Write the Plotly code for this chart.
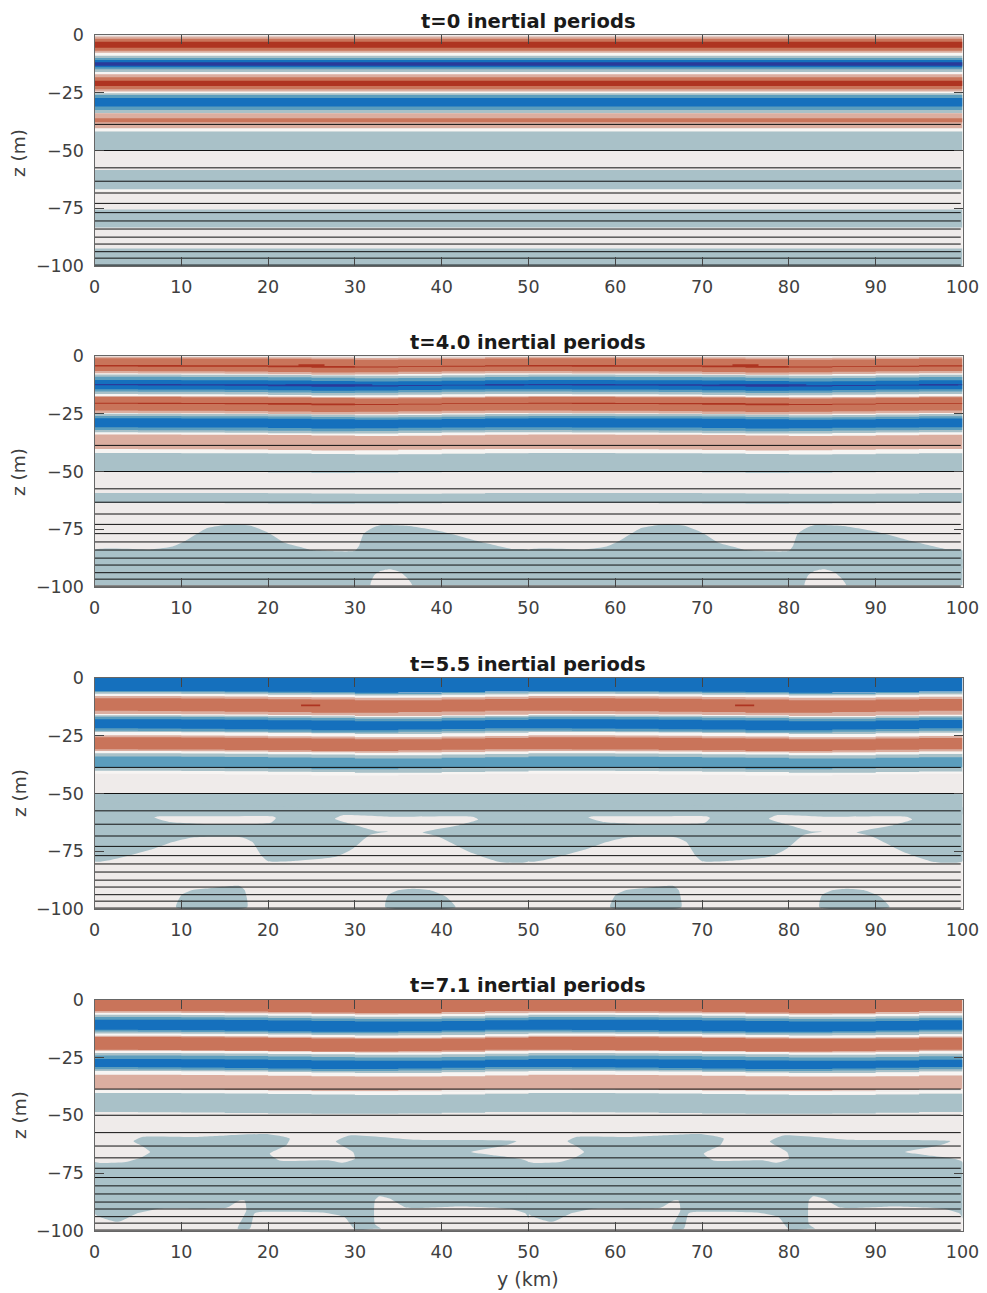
import plotly.graph_objects as go

TITLES = ["t=0 inertial periods", "t=4.0 inertial periods", "t=5.5 inertial periods", "t=7.1 inertial periods"]
X_TICKS = [0, 10, 20, 30, 40, 50, 60, 70, 80, 90, 100]
Z_TICKS = [0, -25, -50, -75, -100]

# depths (m) of the horizontal model-level lines, shared by every panel
LEVEL_LINES = [38.7, 50.0, 57.5, 63.3, 68.4, 72.9, 76.9, 80.5, 84.0, 87.5, 90.5, 93.8, 96.6, 99.6]

# stripes: colour level, top depth, bottom depth (m)
T0_LEVEL = [.5, 1, 2, 3, .5, -1, -2, -3, -4, .5, 1, 2, 3, .5, -1, -2, -3, .5, 1, 2, .5, -1, -1, -1, -1]
T0_TOP = [7.0, 0.7, 1.6, 2.9, 16.0, 9.0, 10.0, 10.8, 11.8, 24.2, 17.0, 18.3, 19.8, 33.6, 25.2, 26.0, 27.3, 40.0, 33.9, 36.0, 66.5, 41.8, 58.4, 75.5, 92.4]
T0_BOT = [9.2, 7.7, 6.8, 5.5, 17.2, 16.0, 14.8, 14.0, 13.3, 25.5, 24.5, 23.5, 22.1, 34.4, 33.9, 32.5, 31.0, 41.8, 40.4, 37.8, 67.6, 49.8, 66.8, 83.3, 100.0]

T4_LEVEL = [.5, 1, 2, 3, .5, -1, -2, -3, -4, .5, 1, 2, 3, .5, -1, -2, -3, .5, 1, .5, -1, -1]
T4_TOP = [6.5, 0.3, 1.0, 3.9, 15.5, 8.0, 9.0, 10.4, 12.1, 24.0, 17.3, 17.8, 20.2, 32.5, 25.0, 26.0, 27.0, 39.5, 34.0, 41.0, 42.0, 59.3]
T4_BOT = [8.2, 7.5, 6.5, 4.5, 17.5, 16.5, 15.4, 14.4, 12.7, 25.4, 24.7, 23.6, 20.7, 34.2, 33.0, 32.0, 30.8, 42.0, 40.3, 42.0, 50.0, 63.6]
T4_WOBBLE = [0.0, 0.0, -0.1, -0.1, -0.2, -0.4, -0.6, -0.5, -0.3, -0.1, 0.0]

T5_LEVEL = [-3, -2, -1, .5, 1, 2, .5, -1, -2, -3, .5, 1, 2, .5, -1, -2, .5]
T5_TOP = [-1.0, 5.8, 6.3, 7.0, 8.0, 9.0, 15.8, 16.3, 17.0, 18.1, 23.6, 25.0, 25.9, 31.8, 32.8, 34.2, 40.4]
T5_BOT = [6.0, 6.6, 7.4, 8.3, 16.3, 14.4, 16.6, 24.0, 23.0, 22.0, 25.2, 32.0, 31.0, 33.0, 41.0, 38.9, 41.6]
T5_WOBBLE = [0.2, 0.2, 0.1, 0.0, -0.2, -0.3, -0.6, -0.6, -0.3, -0.1, 0.2]

T7_LEVEL = [2, 1, .5, -1, -2, -3, .5, 1, 2, .5, -1, -2, -3, .5, 1, .5, -1]
T7_TOP = [-1.0, 5.3, 6.0, 6.9, 7.9, 9.0, 15.0, 16.0, 16.5, 22.4, 23.4, 24.5, 26.0, 31.2, 32.8, 39.5, 40.7]
T7_BOT = [5.5, 6.2, 7.1, 15.3, 14.1, 13.4, 16.2, 22.7, 22.0, 23.6, 31.4, 30.4, 29.5, 33.0, 39.0, 40.7, 48.9]
T7_WOBBLE = [0.3, 0.3, 0.2, 0.1, -0.1, -0.3, -0.5, -0.5, -0.3, 0.0, 0.3]

WOBBLE_Y = [0, 5, 10, 15, 20, 25, 30, 35, 40, 45, 50]

# short streaks and flat blocks: colour level, y start, y end, top depth, bottom depth
T4_STREAK = [(3, 23.5, 26.5, 3.6, 4.4), (-4, 22.0, 32.0, 12.2, 12.9), (-4, 45.0, 49.5, 12.2, 12.8), (-1, 0, 50.2, 88, 99.2)]
T5_STREAK = [(3, 13.5, 28.5, 11.6, 11.8), (3, 23.8, 26.0, 11.5, 12.2), (-1, 0, 50.2, 50, 59)]
T7_STREAK = [(2, 10.0, 17.0, 35.2, 35.5)]

# teal regions and holes, one 50 km repeat: y (km), depth (m)
T4_TEAL_Y = [0, 6.7, 9, 10.5, 13, 16, 18, 20, 22, 24, 25, 30, 30.5, 31, 32, 33, 36, 40, 44, 48, 50, 50, 25, 0]
T4_TEAL_Z = [84, 83.7, 82.5, 80, 74.5, 72.7, 73.5, 76.5, 81, 83, 84, 84.3, 82, 77, 74.5, 73.2, 73.5, 76, 80, 83.5, 84, 92, 92, 92]
T4_HOLE_Y = [31.8, 32.2, 33, 34, 35.2, 36, 36.6]
T4_HOLE_Z = [99.3, 95, 93, 92.3, 93.5, 96, 99.3]

T5_TEAL_Y = [0, 6.3, 9, 11.3, 17, 18.2, 19.2, 20, 23, 27.8, 29.8, 31.7, 33.8, 37.8, 39.7, 43.2, 46.7, 50, 50, 25, 0]
T5_TEAL_Z = [79.3, 74.5, 71, 69, 69, 71, 76.7, 79.3, 79.2, 77.4, 73.8, 68, 66.6, 67, 68.8, 75.3, 79.6, 79.3, 56, 56, 56]
T5_LENS1_Y = [6.9, 7.5, 14, 20.5, 20.9, 20.3, 13.6, 8.6]
T5_LENS1_Z = [60.4, 59.9, 59.9, 59.9, 60.6, 62.7, 63.3, 62.3]
T5_LENS2_Y = [27.7, 28.6, 34.4, 43.6, 44.2, 42, 37.8, 38.5, 33.8, 33.8, 32.6, 29.4]
T5_LENS2_Z = [60.9, 59.4, 60.1, 60.1, 61.3, 63.7, 67, 70, 70, 66.6, 66.4, 63]
T5_BLOB1_Y = [9.4, 10, 11.3, 13.2, 16.7, 17.3, 17.6]
T5_BLOB1_Z = [99.2, 94, 91.8, 91, 90, 91.8, 99.2]
T5_BLOB2_Y = [33.5, 33.8, 35.1, 36.7, 38.6, 40.5, 41.6]
T5_BLOB2_Z = [99.2, 94, 91.8, 91.2, 91.8, 94.7, 99.2]

T7_TEAL_Y = [0, 0.6, 3.6, 5.5, 6.4, 5.5, 4.5, 5.5, 11.3, 15.2, 19.8, 22.5, 22.1, 20.2, 21.3, 27.1, 28.6, 30, 29.8, 27.8, 29.4, 37, 48.6, 47.4, 43.4, 45.9, 50,
             50, 49.7, 47.8, 42, 35.9, 34, 32.8, 32.3, 32.3, 33, 32.3, 30, 28.8, 26.7, 19, 18.4, 17.9, 16.5, 17.5, 17.3, 16.7, 15.2, 7.5, 4.8, 2.7, 0]
T7_TEAL_Z = [70.2, 70.6, 70.2, 68, 65.9, 63.3, 61.2, 59.4, 59.4, 58.7, 58.1, 60.1, 63, 66.6, 69.5, 69.5, 70.5, 68.8, 65.9, 61.3, 58.7, 60.6, 61.2, 63, 65.9, 67.3, 70.2,
             94.5, 92.5, 90.4, 89.4, 89.9, 86, 85, 86.8, 97, 99, 99, 99.3, 94, 92.2, 91.8, 92.5, 99, 99, 91, 86.8, 86.8, 90, 90.4, 92.5, 96, 92.5]

COLORS = {3: "#AE3421", 2: "#C9745A", 1: "#DBAEA0", .5: "#F7F5F3",
          -1: "#A9C1C8", -2: "#5B9DBD", -3: "#1570BD", -4: "#2A3A9A"}
BG = "#EFEBEA"
W, H = 987, 1293
LEFT, RIGHT = 94.5, 962.5
PANELS = [(35, 266), (356, 587), (678, 909), (999.5, 1231)]
ZLABEL_PX = [153, 472, 793, 1115]

fig = go.Figure()


def poly(xs, ys, color, ax, shape="linear"):
    line = dict(width=0, color=color, shape=shape)
    if shape == "spline":
        line["smoothing"] = 0.5
    fig.add_trace(go.Scatter(x=xs, y=[-v for v in ys], mode="lines", fill="toself", fillcolor=color,
                             line=line, hoverinfo="skip", showlegend=False,
                             xaxis=f"x{ax}", yaxis=f"y{ax}"))


def stripes(levels, tops, bots, wobble, ax):
    for lv, t, b in zip(levels, tops, bots):
        xs = WOBBLE_Y + [v + 50 for v in WOBBLE_Y[1:]]
        w = wobble + wobble[1:]
        if lv == -1 and t > 45:
            w = [v * .6 for v in w]
        poly(xs + xs[::-1], [t - v for v in w] + [b - v for v in w][::-1], COLORS[lv], ax, "hv")


def repeat(ys, zs, color, ax, shape="linear"):
    for shift in (0, 50):
        poly([v + shift for v in ys] + [ys[0] + shift], zs + [zs[0]], color, ax, shape)


FLAT = [0.0] * 11
stripes(T0_LEVEL, T0_TOP, T0_BOT, FLAT, 1)

stripes(T4_LEVEL, T4_TOP, T4_BOT, T4_WOBBLE, 2)
for lv, a, b, t, d in T4_STREAK:
    repeat([a, b, b, a], [t, t, d, d], COLORS[lv], 2)
repeat(T4_TEAL_Y, T4_TEAL_Z, COLORS[-1], 2, "spline")
repeat(T4_HOLE_Y, T4_HOLE_Z, BG, 2, "spline")

stripes(T5_LEVEL, T5_TOP, T5_BOT, T5_WOBBLE, 3)
for lv, a, b, t, d in T5_STREAK:
    repeat([a, b, b, a], [t, t, d, d], COLORS[lv], 3)
repeat(T5_TEAL_Y, T5_TEAL_Z, COLORS[-1], 3, "spline")
repeat(T5_LENS1_Y, T5_LENS1_Z, BG, 3, "spline")
repeat(T5_LENS2_Y, T5_LENS2_Z, BG, 3, "spline")
repeat(T5_BLOB1_Y, T5_BLOB1_Z, COLORS[-1], 3, "spline")
repeat(T5_BLOB2_Y, T5_BLOB2_Z, COLORS[-1], 3, "spline")

stripes(T7_LEVEL, T7_TOP, T7_BOT, T7_WOBBLE, 4)
for lv, a, b, t, d in T7_STREAK:
    repeat([a, b, b, a], [t, t, d, d], COLORS[lv], 4)
repeat(T7_TEAL_Y, T7_TEAL_Z, COLORS[-1], 4, "spline")

for ax in range(1, 5):
    lx, ly = [], []
    for z in LEVEL_LINES:
        lx += [0, 99.8, None]
        ly += [-z, -z, None]
    fig.add_trace(go.Scatter(x=lx, y=ly, mode="lines", line=dict(color="#111111", width=1),
                             hoverinfo="skip", showlegend=False, xaxis=f"x{ax}", yaxis=f"y{ax}"))

FONT = "DejaVu Sans"
TICK = dict(family=FONT, size=17.5, color="#404040")
layout = dict(width=W, height=H, margin=dict(l=0, r=0, t=0, b=0, autoexpand=False), paper_bgcolor="white",
              plot_bgcolor=BG, showlegend=False, autosize=False)
ann = []
for i, (top, bot) in enumerate(PANELS, start=1):
    suffix = "" if i == 1 else str(i)
    layout["xaxis" + suffix] = dict(domain=[LEFT / W, RIGHT / W], range=[0, 100], anchor="y" + suffix,
                                    tickvals=X_TICKS, ticks="inside", ticklen=9, tickwidth=1, tickcolor="#444",
                                    showgrid=False, zeroline=False, showline=True, linecolor="#666", linewidth=1,
                                    mirror="allticks", tickfont=TICK, ticklabelstandoff=5)
    layout["yaxis" + suffix] = dict(domain=[1 - bot / H, 1 - top / H], range=[-100, 0], anchor="x" + suffix,
                                    tickvals=Z_TICKS, ticks="inside", ticklen=9, tickwidth=1, tickcolor="#444",
                                    showgrid=False, zeroline=False, showline=True, linecolor="#666", linewidth=1,
                                    mirror="allticks", tickfont=TICK, ticklabelstandoff=6)
    ann.append(dict(text=f"<b>{TITLES[i-1]}</b>", xref="paper", yref="paper", x=528 / W, y=1 - (top - 14) / H,
                    showarrow=False, xanchor="center", yanchor="middle",
                    font=dict(family=FONT, size=19.5, color="#1a1a1a")))
    ann.append(dict(text="z (m)", xref="paper", yref="paper", x=19 / W, y=1 - ZLABEL_PX[i-1] / H,
                    showarrow=False, textangle=-90, xanchor="center", yanchor="middle",
                    font=dict(family=FONT, size=18.5, color="#404040")))
ann.append(dict(text="y (km)", xref="paper", yref="paper", x=528 / W, y=1 - 1279 / H, showarrow=False,
                xanchor="center", yanchor="middle", font=dict(family=FONT, size=19, color="#404040")))
layout["annotations"] = ann
fig.update_layout(**layout)
fig.write_html("out.html", config={"displayModeBar": False},
               post_script="document.body.style.margin='0';document.body.style.overflow='hidden';")
